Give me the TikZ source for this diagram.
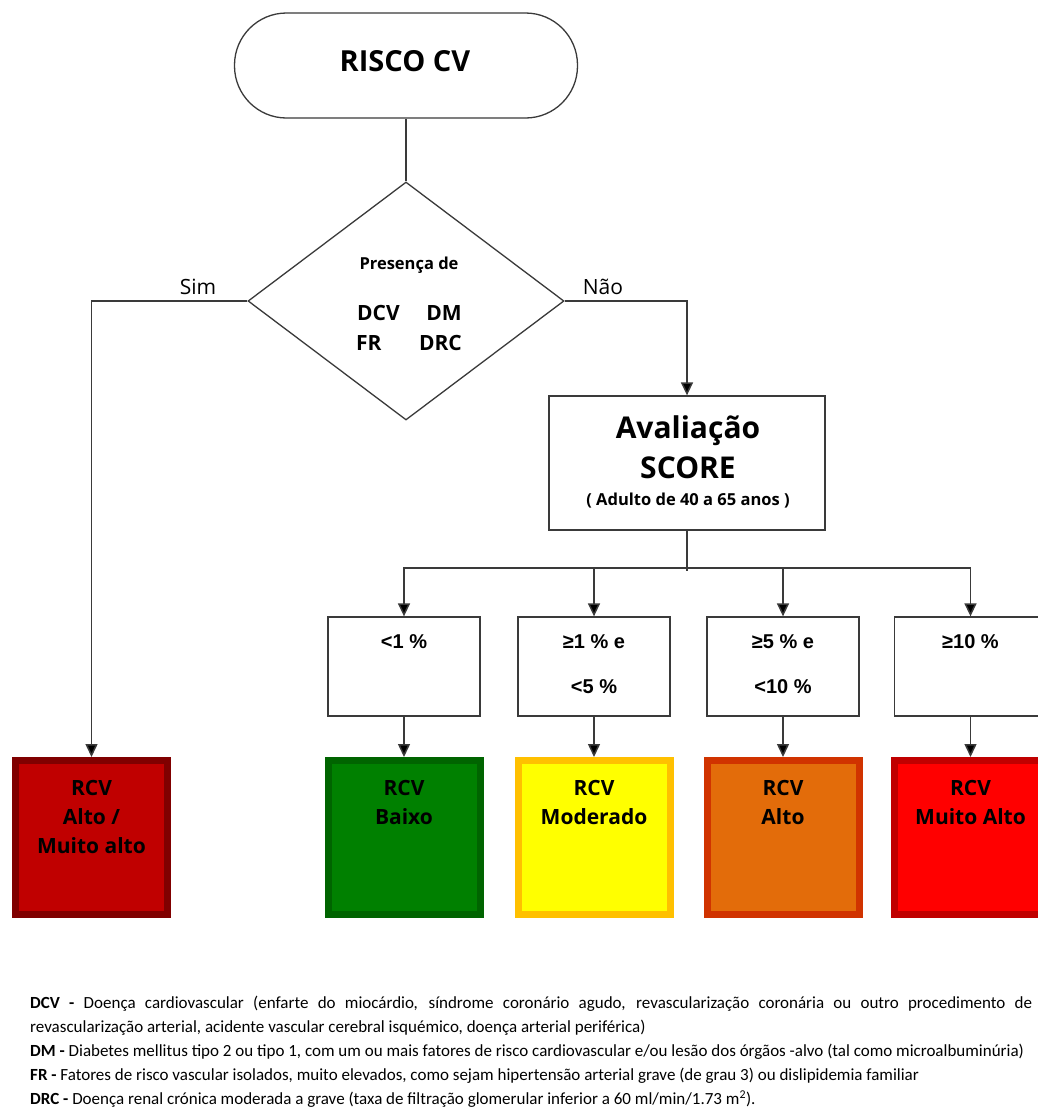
\documentclass[tikz,border=0pt]{standalone}
\usepackage{fontspec}
\setmainfont{Open Sans}
\newfontfamily\arialfont{Liberation Sans}
\newfontfamily\notefont{Carlito}
\usetikzlibrary{shapes.geometric,arrows.meta}
\definecolor{lnc}{HTML}{3A3A3A}
\definecolor{rAbd}{HTML}{800000}\definecolor{rAfl}{HTML}{C00000}
\definecolor{gbd}{HTML}{006400}\definecolor{gfl}{HTML}{008000}
\definecolor{ybd}{HTML}{FFC000}\definecolor{yfl}{HTML}{FFFF00}
\definecolor{obd}{HTML}{D03300}\definecolor{ofl}{HTML}{E36C0A}
\definecolor{rbd}{HTML}{C00000}\definecolor{rfl}{HTML}{FF0000}
\begin{document}
\begin{tikzpicture}[x=1pt,y=-1pt,
  conn/.style={draw=lnc, line width=1.5pt},
  arr/.style={conn, -{Triangle[length=13pt,width=12pt,fill=black]}},
  frame/.style={draw=lnc, line width=1.3pt, fill=white, inner sep=0pt},
  smallbox/.style={frame, minimum width=152pt, minimum height=99pt},
  pct/.style={font=\arialfont\bfseries\fontsize{20}{24}\selectfont, inner sep=0pt},
  riskbox/.style={line width=7pt, minimum width=152pt, minimum height=154pt, inner sep=0pt},
  risktxt/.style={anchor=north, inner sep=0pt, align=center, font=\bfseries\fontsize{21}{29}\selectfont},
  dtxt/.style={font=\bfseries\fontsize{21}{24}\selectfont, inner sep=0pt},
  yn/.style={font=\fontsize{21}{24}\selectfont, inner sep=0pt},
]
\useasboundingbox (0,0) rectangle (1038,1109);
\clip (0,0) rectangle (1038,1109);

% start terminal
\node[frame, rounded corners=52pt, minimum width=343pt, minimum height=105pt] (start) at (406,65.5) {};
\node[font=\bfseries\fontsize{29}{32}\selectfont, inner sep=0pt] (starttxt) at (405,61) {RISCO CV};

% decision diamond
\node[frame, diamond, minimum width=316pt, minimum height=238pt] (dia) at (406,301) {};
\node[font=\bfseries\fontsize{16.5}{18}\selectfont, inner sep=0pt] (pres) at (409,265) {Presença de};
\node[dtxt, anchor=west] (dcv) at (357,313) {DCV};
\node[dtxt, anchor=east] (dm) at (462,313) {DM};
\node[dtxt, anchor=west] (fr) at (356,343) {FR};
\node[dtxt, anchor=east] (drc) at (462,343) {DRC};

% SCORE box
\node[frame, minimum width=276pt, minimum height=134pt] (aval) at (687,463) {};
\node[font=\bfseries\fontsize{30}{33}\selectfont, inner sep=0pt] (avt1) at (688,431) {Avaliação};
\node[font=\bfseries\fontsize{30}{33}\selectfont, inner sep=0pt] (avt2) at (688,468) {SCORE};
\node[font=\bfseries\fontsize{16.5}{18}\selectfont, inner sep=0pt] (avt3) at (688,501) {( Adulto de 40 a 65 anos )};

% percentage boxes
\node[smallbox] (b1) at (404,666.5) {};
\node[smallbox] (b2) at (594,666.5) {};
\node[smallbox] (b3) at (783,666.5) {};
\node[smallbox] (b4) at (970.5,666.5) {};
\node[pct] (p1) at (404,642) {<1 \%};
\node[pct] (p2a) at (594,642) {≥1 \% e};
\node[pct] (p2b) at (594,687) {<5 \%};
\node[pct] (p3a) at (783,642) {≥5 \% e};
\node[pct] (p3b) at (783,687) {<10 \%};
\node[pct] (p4) at (970.5,642) {≥10 \%};

% risk boxes
\node[riskbox, draw=rAbd, fill=rAfl] (r0) at (91.5,837.5) {};
\node[riskbox, draw=gbd, fill=gfl] (r1) at (404,837.5) {};
\node[riskbox, draw=ybd, fill=yfl] (r2) at (594,837.5) {};
\node[riskbox, draw=obd, fill=ofl] (r3) at (783,837.5) {};
\node[riskbox, draw=rbd, fill=rfl] (r4) at (970.5,837.5) {};
\node[risktxt] (rt0) at (91.5,780) {RCV\\Alto /\\Muito alto};
\node[risktxt] (rt1) at (404,780) {RCV\\Baixo};
\node[risktxt] (rt2) at (594,780) {RCV\\Moderado};
\node[risktxt] (rt3) at (783,780) {RCV\\Alto};
\node[risktxt] (rt4) at (970.5,780) {RCV\\Muito Alto};

% connectors
\draw[conn] (start.south) -- (dia.north);
\draw[arr] (dia.west) -| (r0.north);
\draw[arr] (dia.east) -| (aval.north);
\node[yn] (sim) at (198,287) {Sim};
\node[yn] (nao) at (603,287) {Não};
\coordinate (bus) at (687,568);
\draw[conn] (aval.south) -- ([yshift=-3pt]bus);
\draw[arr] (bus) -| (b1.north);
\draw[arr] (bus) -| (b2.north);
\draw[arr] (bus) -| (b3.north);
\draw[arr] (bus) -| (b4.north);
\draw[arr] (b1.south) -- (r1.north);
\draw[arr] (b2.south) -- (r2.north);
\draw[arr] (b3.south) -- (r3.north);
\draw[arr] (b4.south) -- (r4.north);

% footnote
\node[anchor=north west, inner sep=0pt, text width=1002pt, align=justify,
      font=\notefont\fontsize{17}{24}\selectfont] (note) at (30,996) {%
\hyphenpenalty=10000
\textbf{DCV -} Doença cardiovascular (enfarte do miocárdio, síndrome coronário agudo, revascularização coronária ou outro procedimento de\linebreak revascularização arterial, acidente vascular cerebral isquémico, doença arterial periférica)\par
\textbf{DM -} Diabetes mellitus tipo 2 ou tipo 1, com um ou mais fatores de risco cardiovascular e/ou lesão dos órgãos -alvo (tal como microalbuminúria)\par
\textbf{FR -} Fatores de risco vascular isolados, muito elevados, como sejam hipertensão arterial grave (de grau 3) ou dislipidemia familiar\par
\textbf{DRC -} Doença renal crónica moderada a grave (taxa de filtração glomerular inferior a 60 ml/min/1.73 m\textsuperscript{2}).};
\end{tikzpicture}
\end{document}
